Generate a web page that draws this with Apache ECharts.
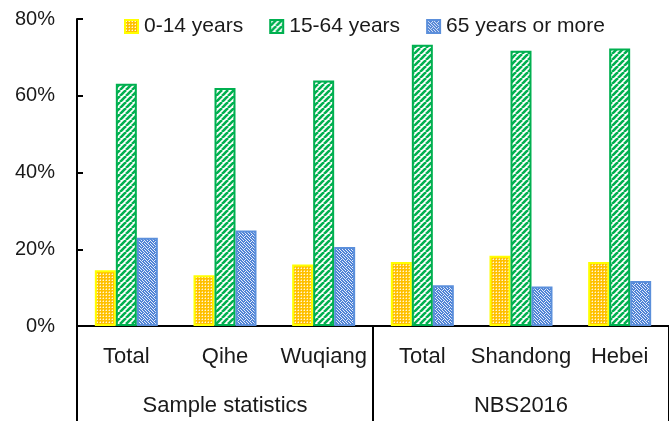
<!DOCTYPE html>
<html><head><meta charset="utf-8">
<script src="https://cdn.jsdelivr.net/npm/echarts@6/dist/echarts.min.js"></script>
<style>html,body{margin:0;padding:0;background:#fff}#c{width:669px;height:421px}</style>
</head><body><div id="c"></div>
<script>
const categories = ['Total','Qihe','Wuqiang','Total','Shandong','Hebei'];
const groups = ['Sample statistics','NBS2016'];
const seriesNames = ['0-14 years','15-64 years','65 years or more'];
const age0to14 = [14.5, 13.2, 16.0, 16.7, 18.3, 16.7];
const age15to64 = [63.1, 62.0, 64.0, 73.3, 71.7, 72.3];
const age65plus = [23.0, 24.9, 20.6, 10.6, 10.3, 11.7];
const yTicks = [0, 20, 40, 60, 80];

function tile(w, h, draw) {
  const c = document.createElement('canvas');
  c.width = w; c.height = h;
  draw(c.getContext('2d'));
  return {image: c, repeat: 'repeat'};
}
const yellowPat = tile(3, 3, g => {
  g.fillStyle = '#FFC000'; g.fillRect(0,0,3,3);
  g.fillStyle = 'rgba(255,255,255,0.85)'; g.fillRect(1,1,1,1);
  g.fillStyle = 'rgba(255,240,200,0.5)'; g.fillRect(1,0,1,1); g.fillRect(0,1,1,1);
});
const greenPat = tile(6, 6, g => {
  g.fillStyle = '#ffffff'; g.fillRect(0,0,6,6);
  g.strokeStyle = '#00B050'; g.lineWidth = 2.6;
  for (let k = -6; k <= 12; k += 6) {
    g.beginPath(); g.moveTo(k, 6); g.lineTo(k + 6, 0); g.stroke();
  }
});
const bluePat = tile(6, 6, g => {
  g.fillStyle = '#4F83D6'; g.fillRect(0,0,6,6);
  g.fillStyle = 'rgba(255,255,255,0.85)';
  [[0,0],[1,1],[2,2],[3,3],[4,2],[5,1],[3,0],[0,3],[1,4],[2,5],[4,4],[5,5]].forEach(p => g.fillRect(p[0],p[1],1,1));
});

const font = 'Liberation Sans';
const txt = '#1a1a1a';
function mk(name, data, pat, border) {
  return {
    name, type: 'bar', data, barWidth: 21, barGap: '0%',
    itemStyle: {color: pat, borderColor: border, borderWidth: 2},
    xAxisIndex: 0, yAxisIndex: 0
  };
}
const chart = echarts.init(document.getElementById('c'), null, {renderer: 'canvas'});
chart.setOption({
  animation: false,
  backgroundColor: '#fff',
  textStyle: {fontFamily: font},
  legend: {
    data: seriesNames, left: 119, top: 11, icon: 'rect',
    itemWidth: 13, itemHeight: 13, itemGap: 26,
    textStyle: {fontFamily: font, fontSize: 21, color: txt, padding: [0,0,0,1]}
  },
  grid: {left: 77, top: 19, width: 600, bottom: 95},
  xAxis: [
    {type: 'category', data: categories, position: 'bottom',
     axisLine: {lineStyle: {color: '#000', width: 2}},
     axisTick: {show: false},
     axisLabel: {fontFamily: font, fontSize: 22, color: txt, margin: 20, interval: 0}},
    {type: 'category', data: groups, position: 'bottom', offset: 0,
     axisLine: {show: false},
     axisTick: {show: true, length: 96, interval: 0, lineStyle: {color: '#000', width: 2}},
     axisLabel: {fontFamily: font, fontSize: 22, color: txt, margin: 69, interval: 0}}
  ],
  yAxis: {
    type: 'value', min: 0, max: 80, interval: 20,
    axisLine: {show: true, lineStyle: {color: '#000', width: 2}},
    axisTick: {show: true, inside: true, length: 6, lineStyle: {color: '#000', width: 2}},
    splitLine: {show: false},
    axisLabel: {formatter: '{value}%', fontFamily: font, fontSize: 20, color: txt, margin: 22}
  },
  series: [
    mk(seriesNames[0], age0to14, yellowPat, '#FFFF00'),
    mk(seriesNames[1], age15to64, greenPat, '#00B050'),
    mk(seriesNames[2], age65plus, bluePat, '#5B8FDB')
  ]
});
</script></body></html>
